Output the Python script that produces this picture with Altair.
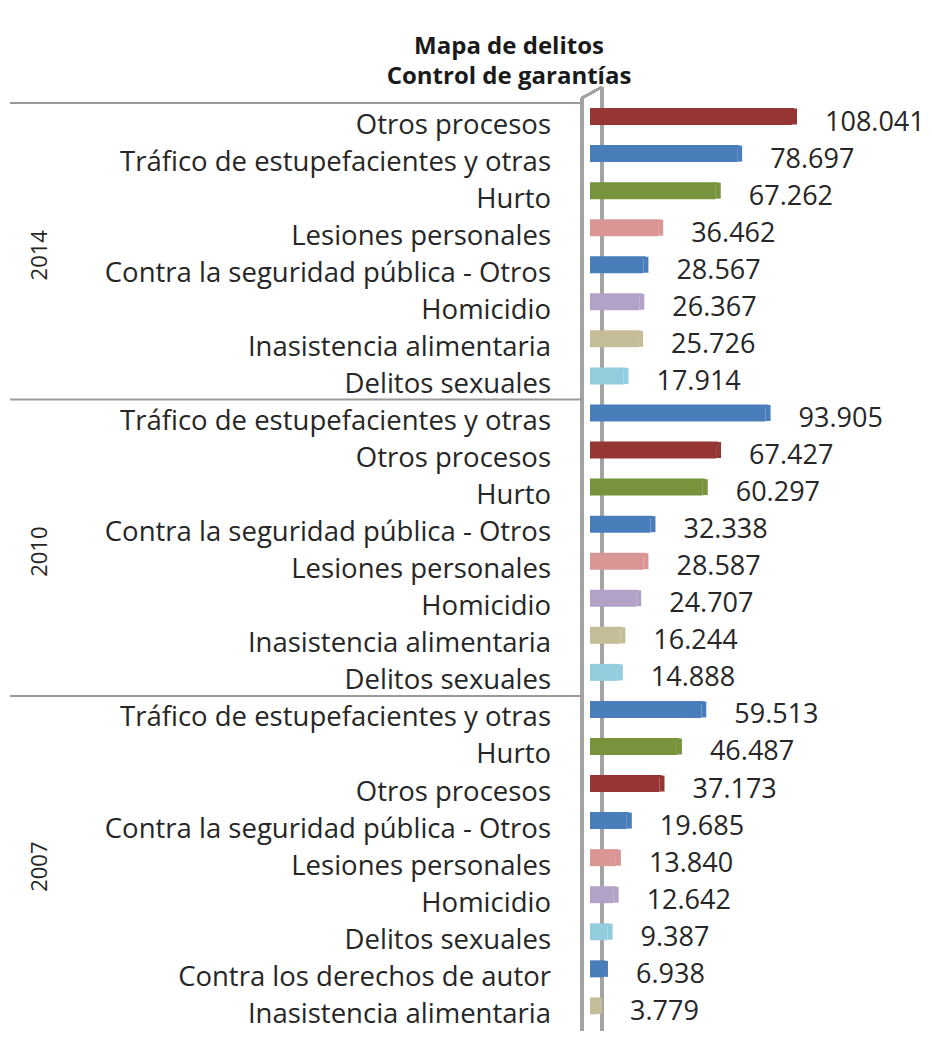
import altair as alt
import pandas as pd

# ---- data ----
years = ["2014"] * 8 + ["2010"] * 8 + ["2007"] * 9
categories = [
    "Otros procesos", "Tráfico de estupefacientes y otras", "Hurto",
    "Lesiones personales", "Contra la seguridad pública - Otros", "Homicidio",
    "Inasistencia alimentaria", "Delitos sexuales",
    "Tráfico de estupefacientes y otras", "Otros procesos", "Hurto",
    "Contra la seguridad pública - Otros", "Lesiones personales", "Homicidio",
    "Inasistencia alimentaria", "Delitos sexuales",
    "Tráfico de estupefacientes y otras", "Hurto", "Otros procesos",
    "Contra la seguridad pública - Otros", "Lesiones personales", "Homicidio",
    "Delitos sexuales", "Contra los derechos de autor", "Inasistencia alimentaria",
]
values = [
    108041, 78697, 67262, 36462, 28567, 26367, 25726, 17914,
    93905, 67427, 60297, 32338, 28587, 24707, 16244, 14888,
    59513, 46487, 37173, 19685, 13840, 12642, 9387, 6938, 3779,
]

color_domain = [
    "Otros procesos", "Tráfico de estupefacientes y otras", "Hurto",
    "Lesiones personales", "Contra la seguridad pública - Otros", "Homicidio",
    "Inasistencia alimentaria", "Delitos sexuales", "Contra los derechos de autor",
]
front_colors = ["#963634", "#4a7ebb", "#77933c", "#d99694", "#4a7ebb",
                "#b3a2c7", "#c4bd97", "#93cddd", "#4a7ebb"]
side_colors = ["#6b2524", "#2f5a8c", "#536a26", "#a86b69", "#2f5a8c",
               "#8471a0", "#959070", "#5fa3b6", "#2f5a8c"]
top_colors = ["#b75a58", "#7aa2d4", "#9ab55d", "#ebbab8", "#7aa2d4",
              "#cfc2e0", "#ddd7b8", "#bfe6f0", "#7aa2d4"]

title_text = "Mapa de delitos"
subtitle_text = "Control de garantías"

df = pd.DataFrame({
    "row": list(range(len(values))),
    "year": years,
    "cat": categories,
    "v": values,
    "label": [f"{v:,}".replace(",", ".") for v in values],
})

# ---- layout ----
STEP = 37.46
PAD_L, PAD_T = 582, 94
W, H = 334, 929
YMAX = -0.5 + H / STEP
XMAX = W / 0.0018697
FONT = "Open Sans"

yscale = alt.Scale(domain=[-0.5, YMAX], reverse=True, nice=False, zero=False)
xscale = alt.Scale(domain=[0, XMAX], nice=False, zero=True)
Y = alt.Y("row:Q", scale=yscale, axis=None)

base = alt.Chart(df)

wall_left = base.mark_rule(color="#a3a3a3", strokeWidth=3).encode(
    x=alt.value(-8), y=alt.value(-4), y2=alt.value(H))
wall_back = base.mark_rule(color="#a3a3a3", strokeWidth=3).encode(
    x=alt.value(12), y=alt.value(-15), y2=alt.value(H))
wall_diag = base.mark_rule(color="#a3a3a3", strokeWidth=2).encode(
    x=alt.value(-8), x2=alt.value(12), y=alt.value(-4), y2=alt.value(-15))

separators = base.transform_aggregate(
    rmin="min(row)", groupby=["year"]
).transform_calculate(b="datum.rmin - 0.5").mark_rule(
    color="#9a9a9a", strokeWidth=2, yOffset=-4
).encode(x=alt.value(-580), x2=alt.value(-8),
         y=alt.Y("b:Q", scale=yscale, axis=None))

bars = base.mark_bar(orient="horizontal", height=15, yOffset=-8).encode(
    x=alt.X("v:Q", scale=xscale, axis=None),
    x2=alt.datum(0),
    y=Y,
    color=alt.Color("cat:N", scale=alt.Scale(domain=color_domain, range=front_colors), legend=None),
)
bar_top = base.mark_bar(orient="horizontal", height=3, yOffset=-16, xOffset=2).encode(
    x=alt.X("v:Q", scale=xscale, axis=None),
    x2=alt.datum(0),
    y=Y,
    color=alt.Color("cat:N", scale=alt.Scale(domain=color_domain, range=top_colors), legend=None),
)
bar_side = base.mark_tick(orient="vertical", thickness=5, size=16, xOffset=2.5, yOffset=-9,
                          opacity=1).encode(
    x=alt.X("v:Q", scale=xscale, axis=None),
    y=Y,
    color=alt.Color("cat:N", scale=alt.Scale(domain=color_domain, range=side_colors), legend=None),
)

values_text = base.mark_text(align="left", baseline="middle", dx=33, yOffset=-3,
                             font=FONT, fontSize=27, color="#262626").encode(
    x=alt.X("v:Q", scale=xscale, axis=None), y=Y, text="label:N")

cat_text = base.mark_text(align="right", baseline="middle", font=FONT, fontSize=27.5,
                          color="#262626").encode(
    x=alt.value(-39), y=Y, text="cat:N")

year_text = base.transform_aggregate(
    mid="mean(row)", groupby=["year"]
).mark_text(angle=270, align="center", baseline="middle", font=FONT, fontSize=22,
            color="#262626").encode(
    x=alt.value(-550), y=alt.Y("mid:Q", scale=yscale, axis=None), text="year:N")

chart = alt.layer(
    wall_left, wall_back, wall_diag, separators,
    bars, bar_top, bar_side, values_text, cat_text, year_text,
).properties(
    width=W, height=H,
    autosize=alt.AutoSizeParams(type="none"),
    padding={"left": PAD_L, "top": PAD_T, "right": 0, "bottom": 0},
    title=alt.TitleParams(text=title_text, subtitle=subtitle_text,
                          font=FONT, fontSize=24, fontWeight="bold", color="#1a1a1a",
                          subtitleFont=FONT, subtitleFontSize=24, subtitleFontWeight="bold",
                          subtitleColor="#1a1a1a", subtitlePadding=6,
                          anchor="middle", dx=-248, offset=0, dy=3),
).configure_view(stroke=None)

chart.save("out.html", embed_options={"renderer": "svg", "actions": False})
